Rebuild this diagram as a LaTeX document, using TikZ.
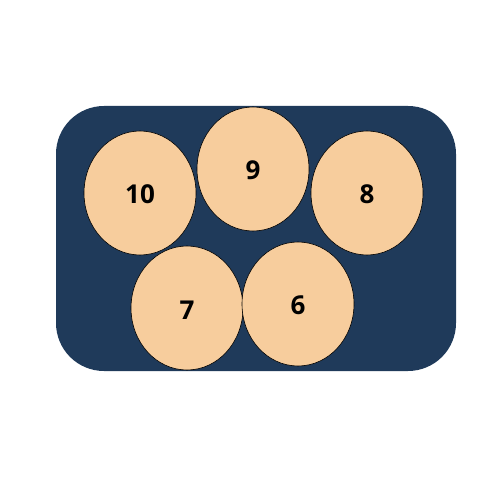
\documentclass[tikz,border=0pt]{standalone}
\usepackage{fontspec}
\setmainfont{Open Sans}
\usetikzlibrary{shapes.geometric}
\definecolor{trayblue}{HTML}{1F3A5A}
\definecolor{eggpeach}{HTML}{F7CD9D}
\begin{document}
\begin{tikzpicture}[x=1pt,y=-1pt,
  egg/.style={ellipse,draw=black,line width=0.6pt,fill=eggpeach,minimum width=112pt,minimum height=124pt,inner sep=0pt},
  eggnum/.style={font=\fontsize{26}{26}\selectfont\bfseries,inner sep=0pt}]
\useasboundingbox (0,0) rectangle (500,500);
\fill[trayblue,rounded corners=48pt] (56,106) rectangle (456,371);
\node[egg] (n10) at (140,193) {};
\node[egg] (n9) at (253,169) {};
\node[egg] (n8) at (367,193) {};
\node[egg] (n7) at (187,308) {};
\node[egg] (n6) at (298,304) {};
\node[eggnum] (t10) at (140,194) {10};
\node[eggnum] (t9) at (253,170) {9};
\node[eggnum] (t8) at (367,194) {8};
\node[eggnum] (t7) at (187,310) {7};
\node[eggnum] (t6) at (298,305) {6};
\end{tikzpicture}
\end{document}
